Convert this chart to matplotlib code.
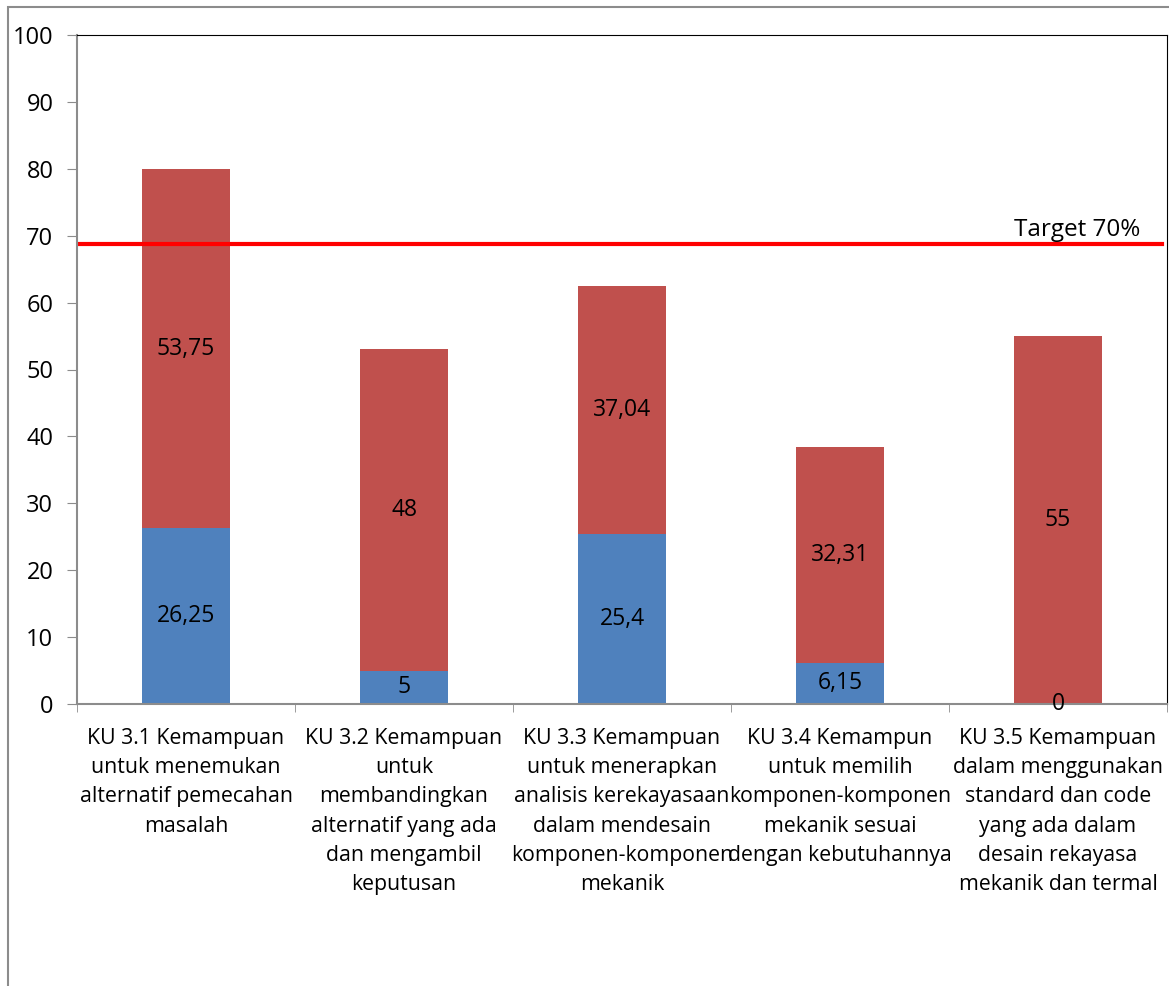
import matplotlib.pyplot as plt
import matplotlib.patches as mpatches
import numpy as np

plt.rcParams['font.family'] = ['Open Sans', 'DejaVu Sans']

categories = [
    'KU 3.1 Kemampuan\nuntuk menemukan\nalternatif pemecahan\nmasalah',
    'KU 3.2 Kemampuan\nuntuk\nmembandingkan\nalternatif yang ada\ndan mengambil\nkeputusan',
    'KU 3.3 Kemampuan\nuntuk menerapkan\nanalisis kerekayasaan\ndalam mendesain\nkomponen-komponen\nmekanik',
    'KU 3.4 Kemampun\nuntuk memilih\nkomponen-komponen\nmekanik sesuai\ndengan kebutuhannya',
    'KU 3.5 Kemampuan\ndalam menggunakan\nstandard dan code\nyang ada dalam\ndesain rekayasa\nmekanik dan termal',
]
bottom_vals = [26.25, 5, 25.4, 6.15, 0]
top_vals = [53.75, 48, 37.04, 32.31, 55]
bottom_labels = ['26,25', '5', '25,4', '6,15', '0']
top_labels = ['53,75', '48', '37,04', '32,31', '55']
target = 68.75

blue = '#4F81BD'
red = '#C0504D'

fig = plt.figure(figsize=(11.69, 9.86), dpi=100)
# outer chart border
fig.patches.append(mpatches.Rectangle((8 / 1169, -0.1), 1.2, 1 - 7 / 986 + 0.1,
                                      transform=fig.transFigure, fill=False,
                                      edgecolor='#8c8c8c', linewidth=1.5))

ax = fig.add_axes([77 / 1169, (986 - 704) / 986, (1167 - 77) / 1169, (704 - 35) / 986])

x = np.arange(len(categories))
ax.bar(x, bottom_vals, width=0.4, color=blue)
ax.bar(x, top_vals, width=0.4, bottom=bottom_vals, color=red)

for i in range(len(x)):
    ax.text(x[i], bottom_vals[i] / 2, bottom_labels[i], ha='center', va='center', fontsize=16.5)
    ax.text(x[i], bottom_vals[i] + top_vals[i] / 2, top_labels[i], ha='center', va='center', fontsize=16.5)

ax.axhline(target, xmin=0, xmax=0.995, color='#FF0000', linewidth=3)
ax.text(4.38, target + 0.3, 'Target 70%', ha='right', va='bottom', fontsize=17.5)

ax.set_xlim(-0.5, 4.5)
ax.set_ylim(0, 100)
ax.set_yticks(np.arange(0, 101, 10))
ax.tick_params(axis='y', labelsize=17, length=7, color='#8c8c8c', pad=10)

ax.set_xticks(x)
ax.set_xticklabels(categories, fontsize=15.3, linespacing=1.52, va='top')
ax.tick_params(axis='x', which='major', length=0, pad=17)
ax.set_xticks(np.arange(-0.5, 5, 1), minor=True)
ax.tick_params(axis='x', which='minor', length=6, color='#8c8c8c')

ax.spines['left'].set_color('#8c8c8c')
ax.spines['bottom'].set_color('#8c8c8c')
ax.spines['left'].set_linewidth(1.5)
ax.spines['bottom'].set_linewidth(1.5)
ax.spines['top'].set_color('black')
ax.spines['right'].set_color('black')

fig.savefig('out.png', dpi=100)
